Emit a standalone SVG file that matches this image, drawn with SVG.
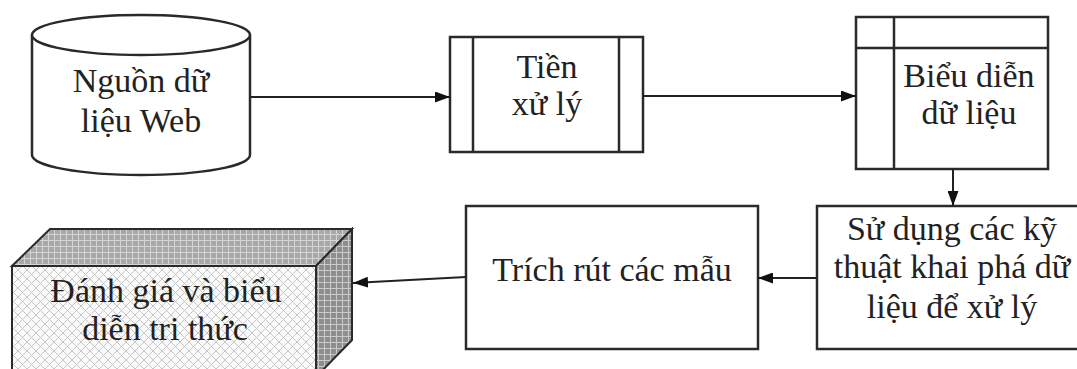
<svg xmlns="http://www.w3.org/2000/svg" width="1077" height="369" viewBox="0 0 1077 369">
  <style>
    .box { fill: #fff; stroke: #2a2a2a; stroke-width: 2.5; }
    .line { fill: none; stroke: #2a2a2a; stroke-width: 2.5; }
    .edge { fill: none; stroke: #222; stroke-width: 2; marker-end: url(#arrow); }
    text { font-family: "Liberation Serif", "Times New Roman", serif; font-size: 34px; fill: #222; text-anchor: middle; }
  </style>
  <defs>
    <marker id="arrow" viewBox="0 0 15 11" refX="15" refY="5.5" markerWidth="15" markerHeight="11" markerUnits="userSpaceOnUse" orient="auto">
      <path d="M0,0 L15,5.5 L0,11 Z" fill="#111"/>
    </marker>
    <!-- light diamond lattice for the front face -->
    <pattern id="lattice" width="9" height="9" patternUnits="userSpaceOnUse">
      <rect width="9" height="9" fill="#fafafa"/>
      <path d="M0,0 L9,9 M9,0 L0,9" stroke="#c6c6c6" stroke-width="1"/>
    </pattern>
    <!-- grey grid for the top face -->
    <pattern id="gridTop" width="6" height="6" patternUnits="userSpaceOnUse">
      <rect width="6" height="6" fill="#a8a8a8"/>
      <path d="M0,0.5 H6 M0.5,0 V6" stroke="#d4d4d4" stroke-width="1"/>
    </pattern>
    <!-- darker grid for the side face -->
    <pattern id="gridSide" width="6" height="6" patternUnits="userSpaceOnUse">
      <rect width="6" height="6" fill="#8e8e8e"/>
      <path d="M0,0.5 H6 M0.5,0 V6" stroke="#cacaca" stroke-width="1"/>
    </pattern>
  </defs>

  <!-- data source cylinder -->
  <g id="node-source">
    <path d="M32,35 V155 A109,20 0 0 0 250,155 V35" class="box"/>
    <ellipse cx="141" cy="35" rx="109" ry="20" class="box"/>
    <text x="141" y="92">Nguồn dữ</text>
    <text x="141" y="132">liệu Web</text>
  </g>

  <!-- preprocessing (predefined process) -->
  <g id="node-preprocess">
    <rect x="450" y="37" width="193" height="115" class="box"/>
    <line x1="473" y1="37" x2="473" y2="152" class="line"/>
    <line x1="619" y1="37" x2="619" y2="152" class="line"/>
    <text x="547" y="78">Tiền</text>
    <text x="547" y="115">xử lý</text>
  </g>

  <!-- data representation (internal storage) -->
  <g id="node-represent">
    <rect x="856" y="17" width="192" height="152" class="box"/>
    <line x1="856" y1="48" x2="1048" y2="48" class="line"/>
    <line x1="894" y1="17" x2="894" y2="169" class="line"/>
    <text x="969" y="87">Biểu diễn</text>
    <text x="969" y="124">dữ liệu</text>
  </g>

  <!-- mining techniques -->
  <g id="node-mining">
    <rect x="817" y="206" width="266" height="143" class="box"/>
    <text x="952" y="240">Sử dụng các kỹ</text>
    <text x="952" y="278">thuật khai phá dữ</text>
    <text x="952" y="318">liệu để xử lý</text>
  </g>

  <!-- pattern extraction -->
  <g id="node-extract">
    <rect x="466" y="206" width="292" height="143" class="box"/>
    <text x="612" y="281">Trích rút các mẫu</text>
  </g>

  <!-- evaluation block (3D box) -->
  <g id="node-evaluate">
    <path d="M12,266 L50,229 L352,229 L316,266 Z" fill="url(#gridTop)" stroke="#2a2a2a" stroke-width="2"/>
    <path d="M316,266 L352,229 L352,340 L316,377 Z" fill="url(#gridSide)" stroke="#2a2a2a" stroke-width="2"/>
    <rect x="12" y="266" width="304" height="111" fill="url(#lattice)" stroke="#2a2a2a" stroke-width="2"/>
    <text x="166" y="302">Đánh giá và biểu</text>
    <text x="165" y="340">diễn tri thức</text>
  </g>

  <!-- connectors -->
  <g id="connectors">
    <line x1="250" y1="97" x2="450" y2="97" class="edge"/>
    <line x1="643" y1="96" x2="856" y2="96" class="edge"/>
    <line x1="953" y1="169" x2="953" y2="206" class="edge"/>
    <line x1="817" y1="278" x2="758" y2="278" class="edge"/>
    <line x1="466" y1="277" x2="353" y2="283" class="edge"/>
  </g>
</svg>
